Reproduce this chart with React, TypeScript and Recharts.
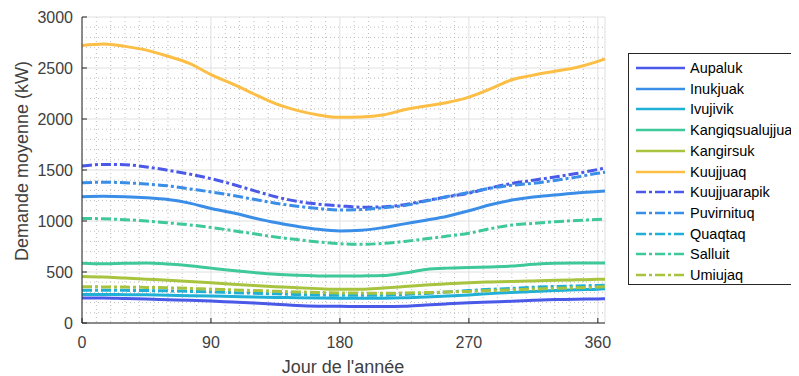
import React from 'react';
import { LineChart, Line, XAxis, YAxis, CartesianGrid } from 'recharts';

// jour de l'année
const days = [0, 15, 30, 45, 60, 75, 90, 105, 120, 135, 150, 165, 180, 195, 210, 225, 240, 255, 270, 285, 300, 315, 330, 345, 360, 365];

const aupaluk = [245, 245, 240, 235, 228, 222, 215, 205, 195, 185, 172, 165, 163, 162, 162, 165, 177, 188, 198, 206, 213, 222, 230, 234, 236, 237];
const inukjuak = [1238, 1242, 1238, 1228, 1210, 1175, 1122, 1080, 1030, 985, 948, 918, 903, 910, 935, 972, 1008, 1047, 1100, 1160, 1205, 1236, 1255, 1275, 1290, 1295];
const ivujivik = [280, 280, 278, 276, 272, 268, 265, 260, 255, 251, 248, 245, 243, 242, 243, 247, 255, 265, 275, 288, 300, 310, 318, 326, 332, 335];
const kangiqsualujjuaq = [585, 580, 585, 588, 578, 562, 538, 515, 495, 478, 468, 462, 460, 462, 465, 490, 525, 538, 543, 550, 558, 575, 586, 588, 588, 588];
const kangirsuk = [455, 450, 440, 430, 420, 408, 395, 380, 367, 356, 346, 337, 330, 330, 342, 357, 373, 385, 395, 402, 407, 412, 418, 423, 428, 430];
const kuujjuaq = [2720, 2735, 2712, 2675, 2615, 2545, 2435, 2345, 2245, 2150, 2085, 2040, 2016, 2020, 2040, 2090, 2128, 2162, 2215, 2295, 2385, 2430, 2468, 2505, 2565, 2590];
const kuujjuarapik = [1540, 1555, 1552, 1530, 1497, 1460, 1415, 1360, 1298, 1238, 1193, 1165, 1148, 1135, 1138, 1160, 1200, 1238, 1273, 1325, 1368, 1400, 1432, 1465, 1505, 1520];
const puvirnituq = [1375, 1380, 1375, 1362, 1345, 1315, 1285, 1252, 1212, 1175, 1145, 1122, 1108, 1112, 1130, 1152, 1195, 1240, 1280, 1322, 1350, 1370, 1398, 1430, 1468, 1478];
const quaqtaq = [322, 322, 320, 318, 315, 310, 305, 298, 292, 286, 280, 275, 272, 271, 272, 280, 290, 304, 318, 330, 340, 350, 358, 363, 368, 370];
const salluit = [1025, 1022, 1013, 1000, 982, 962, 937, 906, 875, 843, 818, 795, 777, 772, 780, 800, 825, 852, 880, 925, 960, 977, 992, 1005, 1015, 1018];
const umiujaq = [355, 354, 352, 349, 345, 339, 332, 325, 318, 311, 305, 299, 295, 293, 292, 294, 298, 304, 310, 318, 325, 333, 340, 346, 352, 355];

const names = ['Aupaluk', 'Inukjuak', 'Ivujivik', 'Kangiqsualujjuaq', 'Kangirsuk', 'Kuujjuaq', 'Kuujjuarapik', 'Puvirnituq', 'Quaqtaq', 'Salluit', 'Umiujaq'];
const values = [aupaluk, inukjuak, ivujivik, kangiqsualujjuaq, kangirsuk, kuujjuaq, kuujjuarapik, puvirnituq, quaqtaq, salluit, umiujaq];
const colors = ['#4a59e8', '#3a8ee8', '#20b0d6', '#3fc89a', '#a8c43e', '#fcbe45', '#4a59e8', '#3a8ee8', '#20b0d6', '#3fc89a', '#a8c43e'];
const dashed = [false, false, false, false, false, false, true, true, true, true, true];

const xTicks = [0, 90, 180, 270, 360];
const yTicks = [0, 500, 1000, 1500, 2000, 2500, 3000];
const xMinor = Array.from({ length: 37 }, (_, i) => i * 10).filter(v => v % 90 !== 0);
const yMinor = Array.from({ length: 31 }, (_, i) => i * 100).filter(v => v % 500 !== 0);

const chartData = days.map((day, i) => {
  const row: Record<string, number> = { day };
  names.forEach((n, k) => { row[n] = values[k][i]; });
  return row;
});

const AXIS = '#262626';
const TEXT = '#404040';
const DASHDOT = '10 3 3 3';

const XTick = (props: any) => {
  const { x, y, payload } = props;
  const axisY = y - 14;
  return (
    <g>
      <line x1={x} y1={axisY} x2={x} y2={axisY - 5} stroke={AXIS} />
      <text x={x} y={y} dy="0.71em" textAnchor="middle" fontSize={16} fill={TEXT}>{payload.value}</text>
    </g>
  );
};

const YTick = (props: any) => {
  const { x, y, payload } = props;
  const axisX = x + 9;
  return (
    <g>
      <line x1={axisX} y1={y} x2={axisX + 5} y2={y} stroke={AXIS} />
      <text x={x} y={y} dy="0.355em" textAnchor="end" fontSize={16} fill={TEXT}>{payload.value}</text>
    </g>
  );
};

const LegendBox = () => (
  <div style={{ position: 'absolute', left: 620, top: 45, width: 200, height: 230, border: '1px solid #262626', background: '#fff' }}>
    {names.map((n, i) => (
      <div key={n} style={{ position: 'absolute', top: 14 + i * 20.7 - 10, left: 0, height: 20, width: 200 }}>
        <svg width={60} height={20} style={{ position: 'absolute', left: 0, top: 0 }}>
          <line x1={7} y1={10} x2={56} y2={10} stroke={colors[i]} strokeWidth={2.5} strokeDasharray={dashed[i] ? DASHDOT : undefined} />
        </svg>
        <span style={{ position: 'absolute', left: 61, top: 0, lineHeight: '20px', fontSize: 14.5, color: '#000', whiteSpace: 'nowrap' }}>{n}</span>
      </div>
    ))}
  </div>
);

export default function App() {
  return (
    <div style={{ position: 'relative', width: 791, height: 368, overflow: 'hidden', fontFamily: '"Liberation Sans", Arial, sans-serif' }}>
      <LineChart width={791} height={368} data={chartData} margin={{ top: 9, right: 194, bottom: 23, left: 14 }}>
        <CartesianGrid horizontalValues={yMinor} verticalValues={xMinor} stroke="#bdbdbd" strokeDasharray="1 3" />
        <CartesianGrid stroke="#e0e0e0" />
        <XAxis
          dataKey="day"
          type="number"
          domain={[0, 365]}
          ticks={xTicks}
          interval={0}
          tickSize={0}
          tickMargin={14}
          height={30}
          stroke={AXIS}
          tick={<XTick />}
        />
        <YAxis
          type="number"
          domain={[0, 3000]}
          ticks={yTicks}
          interval={0}
          tickSize={0}
          tickMargin={9}
          width={60}
          stroke={AXIS}
          tick={<YTick />}
        />
        {names.map((n, i) => (
          <Line
            key={n}
            type="monotone"
            dataKey={n}
            stroke={colors[i]}
            strokeWidth={3}
            strokeDasharray={dashed[i] ? DASHDOT : undefined}
            dot={false}
            isAnimationActive={false}
          />
        ))}
      </LineChart>
      <div style={{ position: 'absolute', left: 14, top: 153, transform: 'translate(-50%, -50%) rotate(-90deg)', fontSize: 18, color: TEXT, whiteSpace: 'nowrap' }}>
        Demande moyenne (kW)
      </div>
      <div style={{ position: 'absolute', left: 335, top: 359, transform: 'translate(-50%, -50%)', fontSize: 18, color: TEXT, whiteSpace: 'nowrap' }}>
        Jour de l'année
      </div>
      <LegendBox />
    </div>
  );
}
